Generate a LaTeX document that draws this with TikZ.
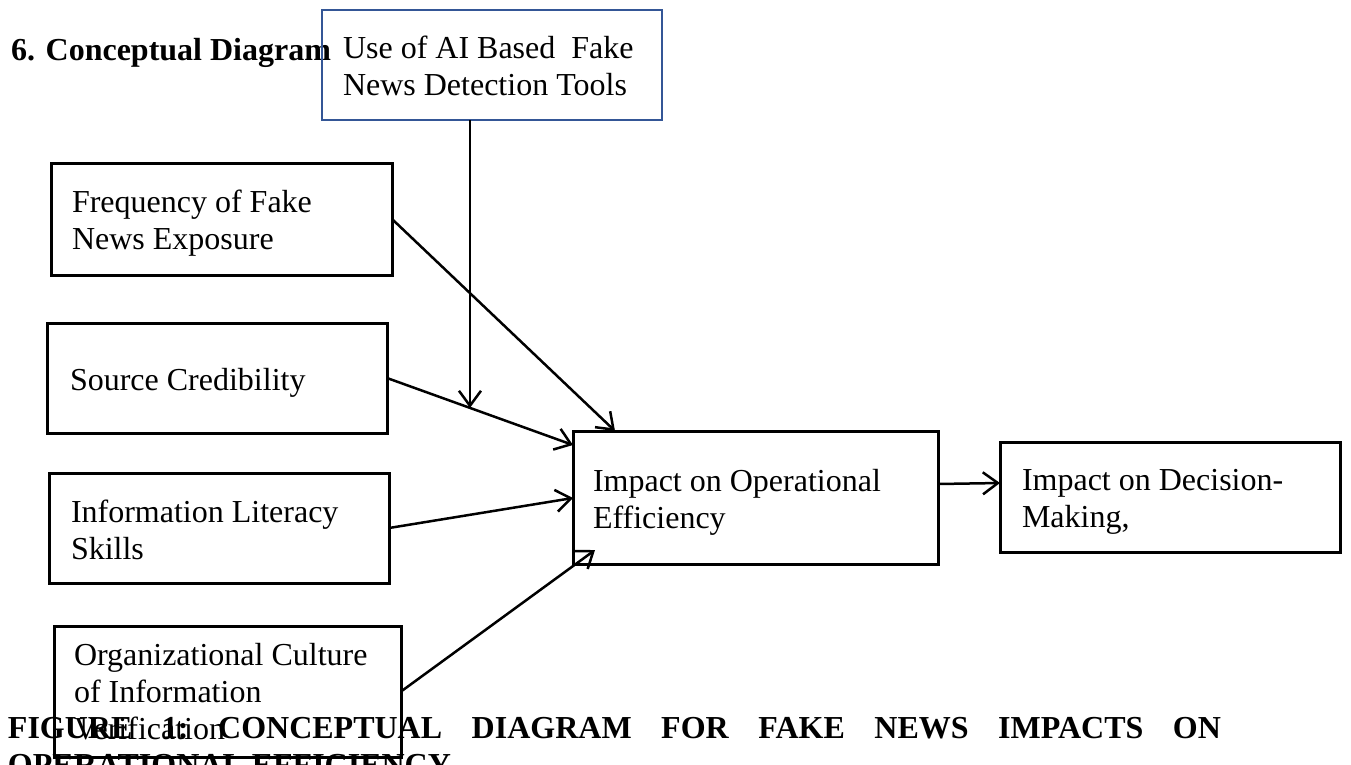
\documentclass[tikz,border=0pt]{standalone}
\usepackage{fontspec}
\setmainfont{Liberation Serif}
\usetikzlibrary{arrows.meta,calc}
\definecolor{aiblue}{RGB}{52,86,150}
\newcommand{\boxlines}[1]{\begin{tabular}[t]{@{}l@{}}#1\end{tabular}}
\begin{document}
\begin{tikzpicture}[x=1pt,y=-1pt,
  box/.style={draw=black, line width=3pt, anchor=north west, inner sep=0pt, outer sep=0pt},
  aibox/.style={box, draw=aiblue, line width=2.5pt},
  txt/.style={anchor=base west, inner sep=0pt, outer sep=0pt, font=\fontsize{32}{37}\selectfont},
  bold/.style={anchor=base west, inner sep=0pt, outer sep=0pt, font=\fontsize{32}{37}\selectfont\bfseries},
  arr/.style={line width=2.5pt, -{Straight Barb[length=15pt,width=22pt]}}]
\useasboundingbox (0,0) rectangle (1351,764);
\fill[white] (0,0) rectangle (1351,764);

% title
\node[bold] (title) at (11,60) {6. Conceptual Diagram};

% boxes
\node[aibox, minimum width=340, minimum height=110] (ai) at (322,10) {};
\node[txt] (aiT) at (343,58) {\boxlines{Use of AI Based\ \ Fake\\News Detection Tools}};

\node[box, minimum width=341, minimum height=112] (freq) at (51,163) {};
\node[txt] (freqT) at (72,212) {\boxlines{Frequency of Fake\\News Exposure}};

\node[box, minimum width=340, minimum height=110] (src) at (47,323) {};
\node[txt] (srcT) at (70,390) {Source Credibility};

\node[box, minimum width=340, minimum height=110] (info) at (49,473) {};
\node[txt] (infoT) at (71,522) {\boxlines{Information Literacy\\Skills}};

\node[box, minimum width=347, minimum height=131] (org) at (54,626) {};
\node[txt] (orgT) at (74,665) {\boxlines{Organizational Culture\\of Information\\Verification}};

\node[box, minimum width=365, minimum height=133] (imp) at (573,431) {};
\node[txt] (impT) at (593,491) {\boxlines{Impact on Operational\\Efficiency}};

\node[box, minimum width=340, minimum height=110] (dm) at (1000,442) {};
\node[txt] (dmT) at (1022,490) {\boxlines{Impact on Decision-\\Making,}};

% connectors
\coordinate (fTip) at ($(imp.north west)+(42,0)$);
\draw[arr] (freq.east) -- (fTip);
\coordinate (sTip) at ($(imp.north west)+(0,14)$);
\draw[arr] (src.east) -- (sTip);
\coordinate (mTip) at ($(src.east)!0.446!(sTip)$);
\draw[arr] (ai.south -| mTip) -- (mTip);
\coordinate (iTip) at ($(imp.north west)+(0,67)$);
\draw[arr] (info.east) -- (iTip);
\coordinate (oTip) at ($(imp.south west)+(22,-14)$);
\draw[arr] (org.east) -- (oTip);
\coordinate (dStart) at ($(imp.north east)+(0,53)$);
\coordinate (dTip) at ($(dm.north west)+(0,41)$);
\draw[arr] (dStart) -- (dTip);

% caption
\node[bold] (cap1) at (8,738) {\hbox to 1213pt{FIGURE\hfill 1:\hfill CONCEPTUAL\hfill DIAGRAM\hfill FOR\hfill FAKE\hfill NEWS\hfill IMPACTS\hfill ON}};
\node[bold] (cap2) at (8,775) {OPERATIONAL EFFICIENCY};
\end{tikzpicture}
\end{document}
